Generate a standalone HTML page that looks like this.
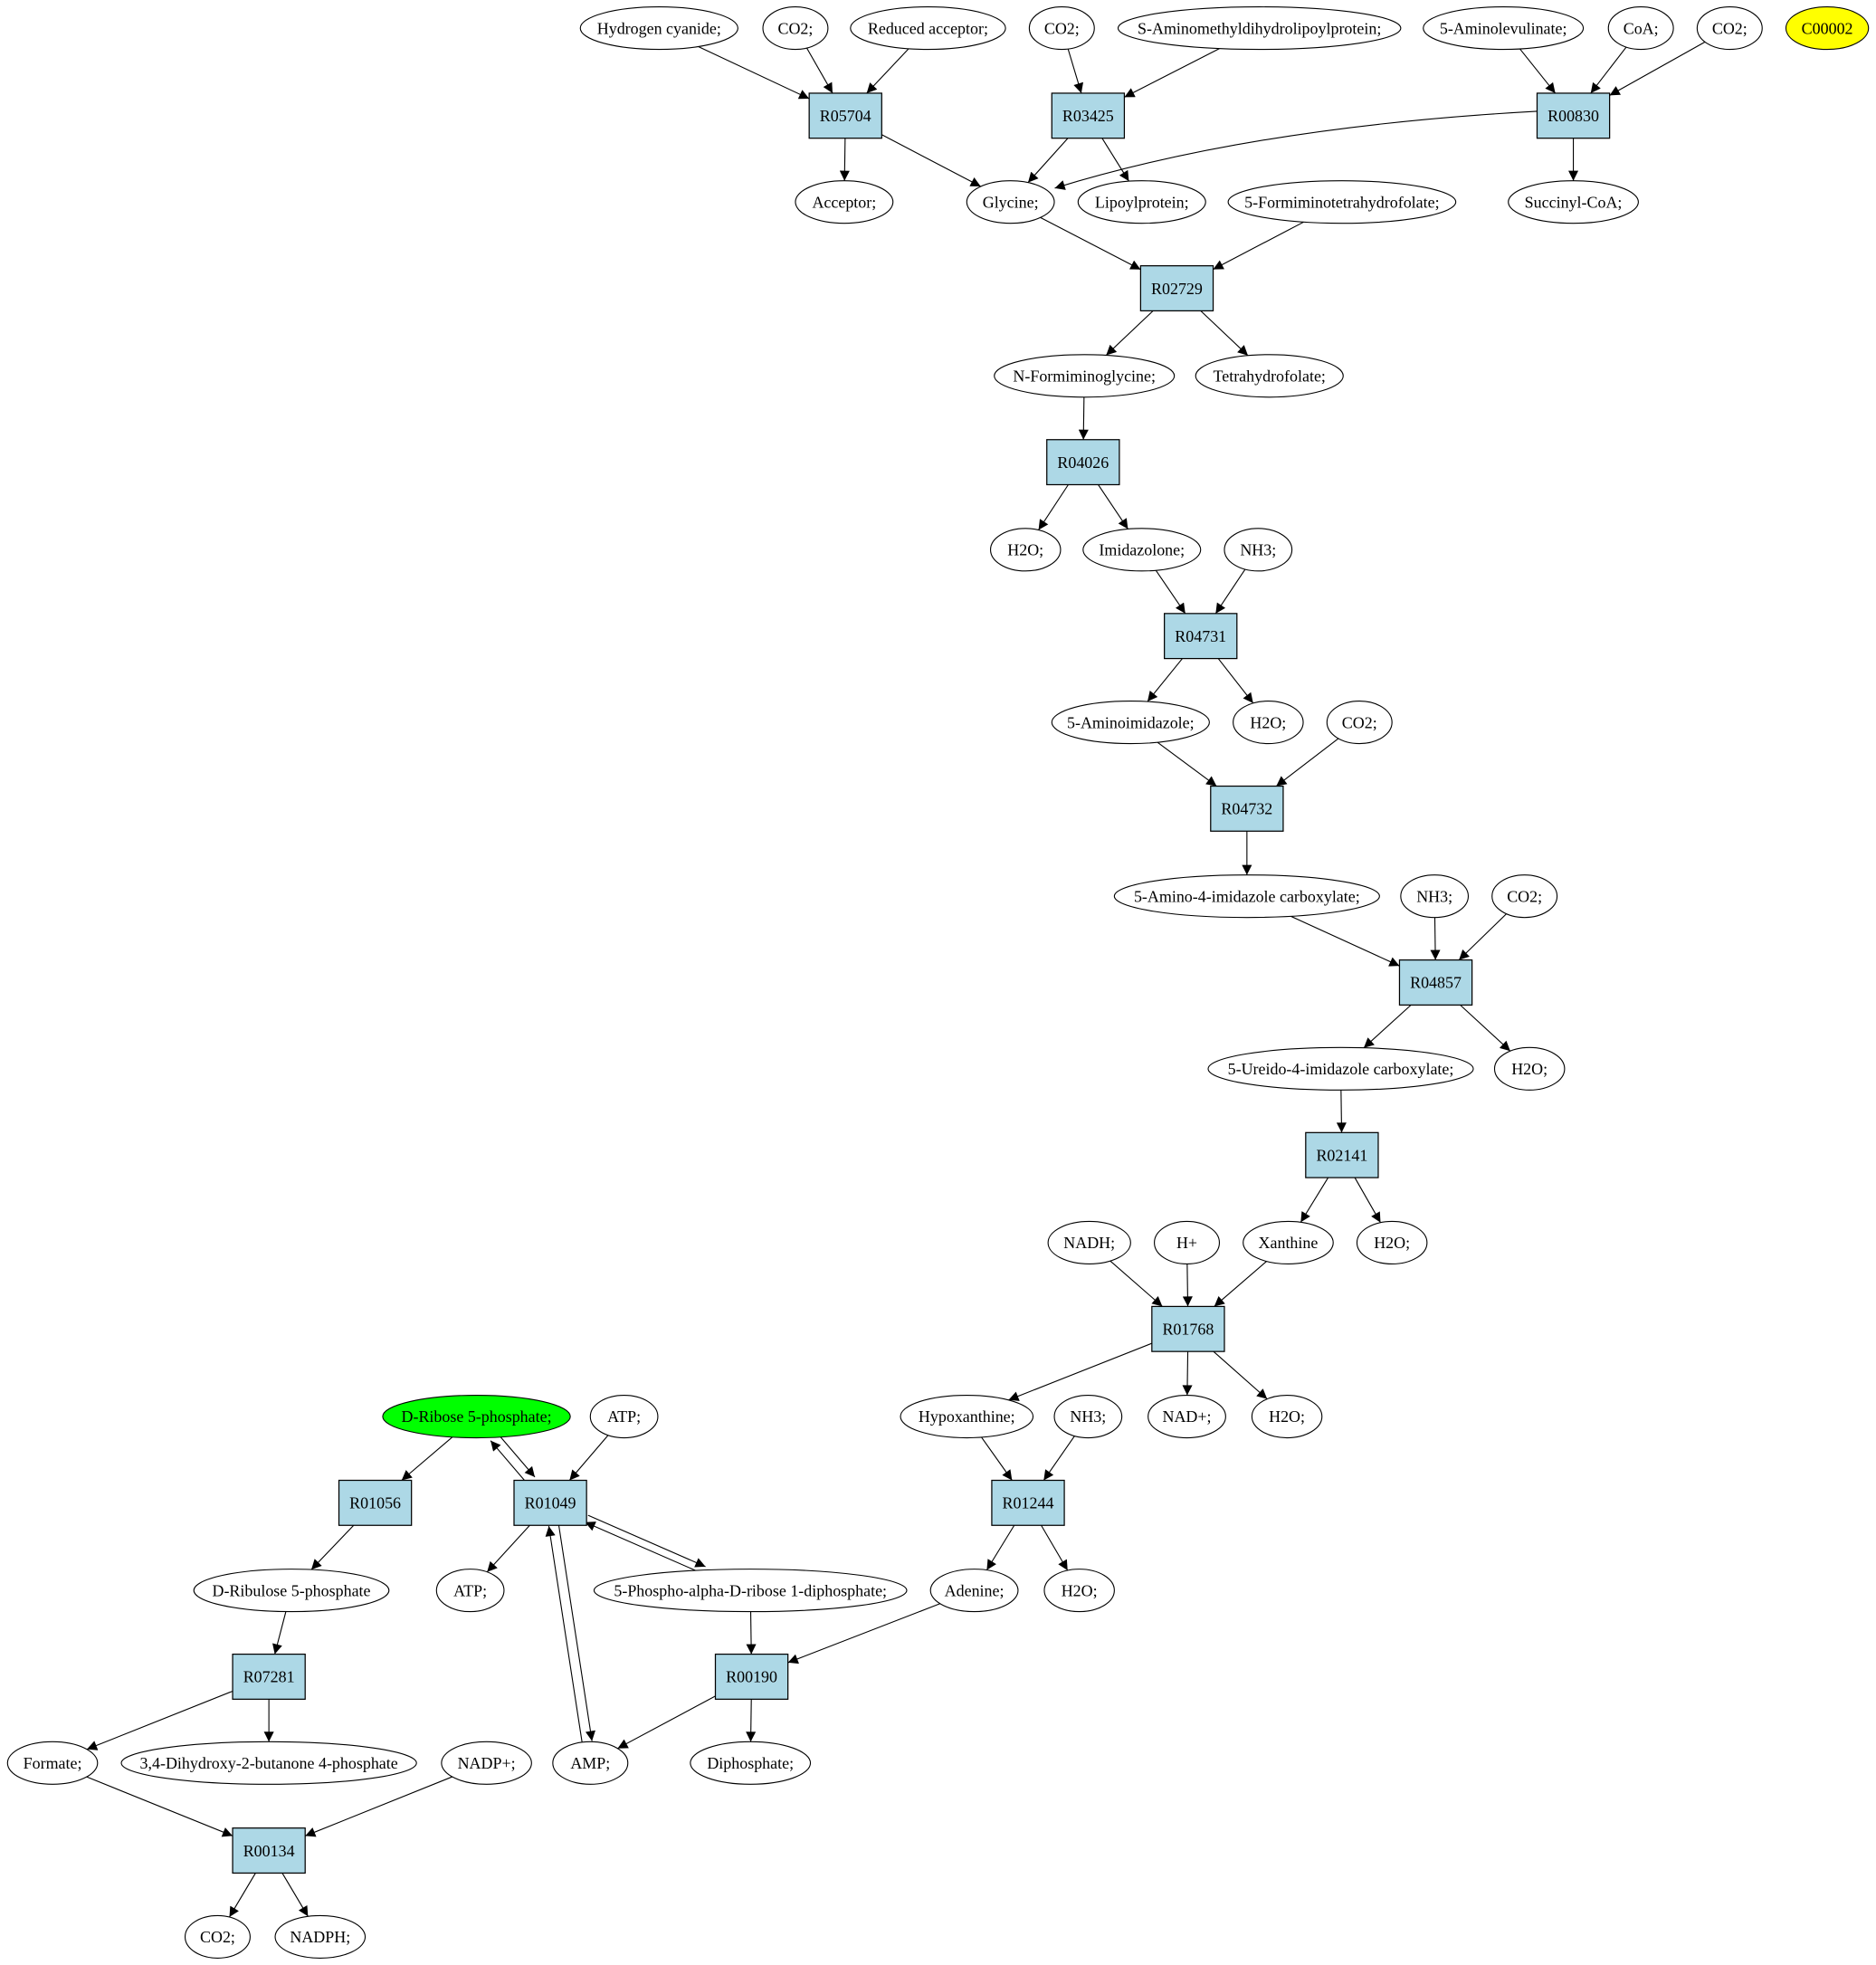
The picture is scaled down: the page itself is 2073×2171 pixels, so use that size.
<!DOCTYPE html>
<html><head><meta charset="utf-8"><style>
html,body{margin:0;padding:0;background:#fff;}
svg{display:block;}
text{font-family:"Liberation Serif",serif;font-size:13px;fill:#000;}
</style></head><body>
<svg id="g" width="2073" height="2171" viewBox="0 0 1500 1571" preserveAspectRatio="none" xmlns="http://www.w3.org/2000/svg">
<defs><marker id="a" viewBox="0 0 10 10" refX="10" refY="5" markerWidth="10" markerHeight="8" markerUnits="userSpaceOnUse" orient="auto"><path d="M0,0L10,5L0,10z" fill="#000"/></marker></defs>
<g transform="translate(2,1.5)"><g id="E"></g><g id="N"></g></g>
</svg>
<script>
var N={
hcn:['e',525,21,126,'Hydrogen cyanide;'],co2a:['e',634,21,52,'CO2;'],red:['e',740,21,124,'Reduced acceptor;'],
co2b:['e',847,21,52,'CO2;'],sam:['e',1005,21,226,'S-Aminomethyldihydrolipoylprotein;'],ala:['e',1200,21,128,'5-Aminolevulinate;'],
coa:['e',1310,21,52,'CoA;'],co2c:['e',1381,21,52,'CO2;'],c2:['y',1459,21,66,'C00002'],
R05704:['b',674,91],R03425:['b',868,91],R00830:['b',1256,91],
acc:['e',673,160,78,'Acceptor;'],gly:['e',806,160,70,'Glycine;'],lip:['e',911,160,102,'Lipoylprotein;'],
form:['e',1071,160,182,'5-Formiminotetrahydrofolate;'],suc:['e',1256,160,104,'Succinyl-CoA;'],
R02729:['b',939,229],nfg:['e',865,299,144,'N-Formiminoglycine;'],thf:['e',1013,299,118,'Tetrahydrofolate;'],
R04026:['b',864,368],h2oa:['e',818,438,56,'H2O;'],imi:['e',911,438,94,'Imidazolone;'],nh3a:['e',1004,438,54,'NH3;'],
R04731:['b',958,507],ai:['e',902,576,126,'5-Aminoimidazole;'],h2ob:['e',1012,576,56,'H2O;'],co2d:['e',1085,576,52,'CO2;'],
R04732:['b',995,645],aic:['e',995,715,212,'5-Amino-4-imidazole carboxylate;'],nh3b:['e',1145,715,54,'NH3;'],co2e:['e',1217,715,52,'CO2;'],
R04857:['b',1146,784],uic:['e',1070,853,212,'5-Ureido-4-imidazole carboxylate;'],h2oc:['e',1221,853,56,'H2O;'],
R02141:['b',1071,922],nadh:['e',869,992,66,'NADH;'],hp:['e',947,992,52,'H+'],xan:['e',1028,992,72,'Xanthine'],h2od:['e',1111,992,56,'H2O;'],
R01768:['b',948,1061],dr5p:['g',379,1131,150,'D-Ribose 5-phosphate;'],atpa:['e',497,1131,54,'ATP;'],hyp:['e',771,1131,106,'Hypoxanthine;'],
nh3c:['e',868,1131,54,'NH3;'],nad:['e',947,1131,62,'NAD+;'],h2oe:['e',1027,1131,56,'H2O;'],
R01056:['b',298,1200],R01049:['b',438,1200],R01244:['b',820,1200],
dru:['e',231,1270,156,'D-Ribulose 5-phosphate'],atpb:['e',374,1270,54,'ATP;'],prpp:['e',598,1270,250,'5-Phospho-alpha-D-ribose 1-diphosphate;'],
ade:['e',777,1270,70,'Adenine;'],h2of:['e',861,1270,56,'H2O;'],
R07281:['b',213,1339],R00190:['b',599,1339],
fmt:['e',40,1408,72,'Formate;'],dhb:['e',213,1408,236,'3,4-Dihydroxy-2-butanone 4-phosphate'],nadp:['e',387,1408,72,'NADP+;'],
amp:['e',470,1408,60,'AMP;'],dip:['e',598,1408,96,'Diphosphate;'],
R00134:['b',213,1478],co2f:['e',172,1547,52,'CO2;'],nadph:['e',254,1547,72,'NADPH;']};
var E=[['hcn','R05704'],['co2a','R05704'],['red','R05704'],['R05704','acc'],['R05704','gly'],
['co2b','R03425'],['sam','R03425'],['R03425','gly'],['R03425','lip'],
['ala','R00830'],['coa','R00830'],['co2c','R00830'],['R00830','gly',0,1],['R00830','suc'],
['gly','R02729'],['form','R02729'],['R02729','nfg'],['R02729','thf'],
['nfg','R04026'],['R04026','h2oa'],['R04026','imi'],
['imi','R04731'],['nh3a','R04731'],['R04731','ai'],['R04731','h2ob'],
['ai','R04732'],['co2d','R04732'],['R04732','aic'],
['aic','R04857'],['nh3b','R04857'],['co2e','R04857'],['R04857','uic'],['R04857','h2oc'],
['uic','R02141'],['R02141','xan'],['R02141','h2od'],
['nadh','R01768'],['hp','R01768'],['xan','R01768'],['R01768','hyp'],['R01768','nad'],['R01768','h2oe'],
['hyp','R01244'],['nh3c','R01244'],['R01244','ade'],['R01244','h2of'],
['dr5p','R01056'],['R01056','dru'],['dru','R07281'],['R07281','fmt'],['R07281','dhb'],
['fmt','R00134'],['nadp','R00134'],['R00134','co2f'],['R00134','nadph'],
['dr5p','R01049',-4],['R01049','dr5p',-4],['atpa','R01049'],['R01049','atpb'],
['R01049','prpp',-3],['prpp','R01049',-3],['R01049','amp',-4],['amp','R01049',-4],
['prpp','R00190'],['ade','R00190'],['R00190','amp'],['R00190','dip']];
var ns='http://www.w3.org/2000/svg',gE=document.getElementById('E'),gN=document.getElementById('N');
function mk(t,a,p){var e=document.createElementNS(ns,t);for(var k in a)e.setAttribute(k,a[k]);p.appendChild(e);return e;}
function clip(n,dx,dy){var d=N[n];if(d[0]=='b'){var s=Math.min(29/Math.abs(dx||1e-9),18/Math.abs(dy||1e-9));return s;}
var rx=d[3]/2,ry=17;return 1/Math.sqrt(dx*dx/(rx*rx)+dy*dy/(ry*ry));}
E.forEach(function(e){var a=N[e[0]],b=N[e[1]],dx=b[1]-a[1],dy=b[2]-a[2],L=Math.hypot(dx,dy);
var off=e[2]||0,ox=-dy/L*off,oy=dx/L*off;
var sa=clip(e[0],dx,dy),sb=clip(e[1],-dx,-dy);
var x1=a[1]+dx*sa+ox,y1=a[2]+dy*sa+oy,x2=b[1]-dx*sb+ox,y2=b[2]-dy*sb+oy;
if(e[3]){mk('path',{d:'M'+x1+','+(y1-8)+' Q1000,100 '+(x2+2)+','+(y2-6),fill:'none',stroke:'#000','stroke-width':0.8,'marker-end':'url(#a)'},gE);}
else mk('line',{x1:x1,y1:y1,x2:x2,y2:y2,stroke:'#000','stroke-width':0.8,'marker-end':'url(#a)'},gE);});
for(var k in N){var d=N[k];
if(d[0]=='b'){mk('rect',{x:d[1]-29,y:d[2]-18,width:58,height:36,fill:'#add8e6',stroke:'#000','stroke-width':0.9},gN);
mk('text',{x:d[1],y:d[2]+4.5,'text-anchor':'middle'},gN).textContent=k;}
else{var f=d[0]=='g'?'#00ff00':d[0]=='y'?'#ffff00':'#fff';
mk('ellipse',{cx:d[1],cy:d[2],rx:d[3]/2,ry:17,fill:f,stroke:'#000','stroke-width':0.8},gN);
mk('text',{x:d[1],y:d[2]+4.5,'text-anchor':'middle'},gN).textContent=d[4];}}
</script>
</body></html>
